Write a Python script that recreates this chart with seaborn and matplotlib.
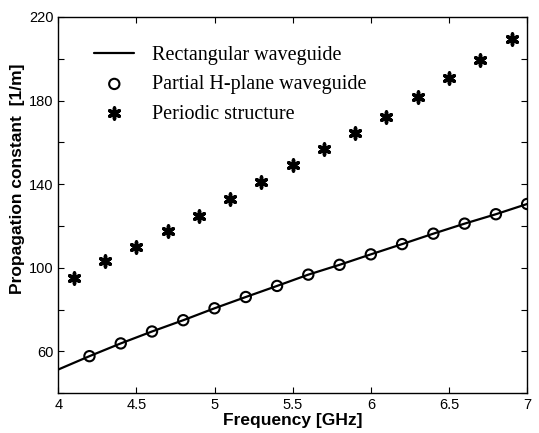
import numpy as np
import pandas as pd
import matplotlib
matplotlib.use("Agg")
import matplotlib.pyplot as plt
import seaborn as sns
from matplotlib.ticker import MultipleLocator, NullFormatter

sns.set_style("ticks")
plt.rcParams["text.color"] = "black"
plt.rcParams["axes.labelcolor"] = "black"
plt.rcParams["xtick.color"] = "black"
plt.rcParams["ytick.color"] = "black"
plt.rcParams["axes.edgecolor"] = "black"

# values
line_freq = [4.0, 4.2, 4.4, 4.6, 4.8, 5.0, 5.2, 5.4, 5.6, 5.8, 6.0, 6.2, 6.4, 6.6, 6.8, 7.0]
line_beta = [51.3, 57.7, 63.8, 69.5, 74.9, 80.6, 86.0, 91.3, 96.7, 101.4, 106.4, 111.3,
             116.3, 121.1, 125.6, 130.5]

hplane_freq = [4.2, 4.4, 4.6, 4.8, 5.0, 5.2, 5.4, 5.6, 5.8, 6.0, 6.2, 6.4, 6.6, 6.8, 7.0]
hplane_beta = [57.7, 63.8, 69.5, 74.9, 80.6, 86.0, 91.3, 96.7, 101.4, 106.4, 111.3,
               116.3, 121.1, 125.6, 130.5]

periodic_freq = [4.1, 4.3, 4.5, 4.7, 4.9, 5.1, 5.3, 5.5, 5.7, 5.9, 6.1, 6.3, 6.5, 6.7, 6.9]
periodic_beta = [95.0, 103.3, 109.7, 117.8, 124.8, 132.9, 141.1, 149.2, 157.0, 164.3,
                 172.3, 181.6, 190.6, 199.6, 209.2]

fig = plt.figure(figsize=(5.39, 4.33), dpi=100)
ax = fig.add_axes([0.108, 0.092, 0.87, 0.869])

sns.lineplot(x=line_freq, y=line_beta, ax=ax, color="black", linewidth=1.6,
             label="Rectangular waveguide")
sns.scatterplot(x=hplane_freq, y=hplane_beta, ax=ax, marker="o", s=55,
                facecolor="none", edgecolor="black", linewidth=1.5,
                label="Partial H-plane waveguide", zorder=3)
sns.scatterplot(x=periodic_freq, y=periodic_beta, ax=ax, marker=(6, 2, 0), s=62,
                color="black", edgecolor="black", linewidth=2.5,
                label="Periodic structure", zorder=3)

ax.set_xlim(4, 7)
ax.set_ylim(40, 220)
ax.set_yticks([60, 100, 140, 180, 220])
ax.yaxis.set_minor_locator(MultipleLocator(20))
ax.yaxis.set_minor_formatter(NullFormatter())
ax.set_xticks([4, 4.5, 5, 5.5, 6, 6.5, 7])
ax.set_xticklabels(["4", "4.5", "5", "5.5", "6", "6.5", "7"])

ax.tick_params(which="both", direction="in", top=True, right=True,
               labelsize=10.5, length=4, width=0.8, colors="black")
for lab in ax.get_xticklabels() + ax.get_yticklabels():
    lab.set_family("Liberation Sans")
for s in ax.spines.values():
    s.set_linewidth(1.0)
    s.set_visible(True)
    s.set_color("black")

ax.set_xlabel("Frequency [GHz]", fontsize=12.5, fontweight="bold",
              family="Liberation Sans", labelpad=1, color="black")
ax.set_ylabel("Propagation constant  [1/m]", fontsize=12.5, fontweight="bold",
              family="Liberation Sans", color="black")
ax.yaxis.set_label_coords(-0.07, 0.57)

leg = ax.legend(loc="upper left", frameon=False, bbox_to_anchor=(0.038, 0.972),
                prop={"family": "Liberation Serif", "size": 14.5},
                handlelength=2.0, handletextpad=0.85, labelspacing=0.52)
for t in leg.get_texts():
    t.set_color("black")

fig.savefig("out.png", dpi=100)
